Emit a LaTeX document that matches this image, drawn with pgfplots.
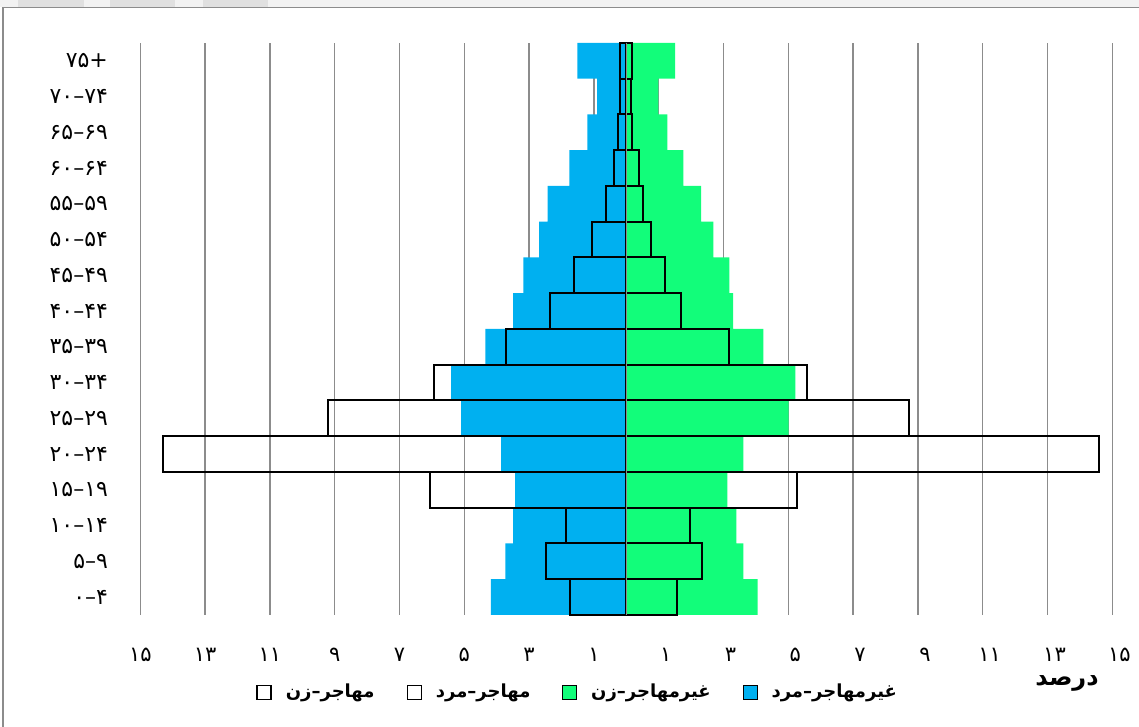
\documentclass[border=0pt]{standalone}
\usepackage{pgfplots}
\pgfplotsset{compat=1.18}
\usepackage{fontspec}
\setmainfont{DejaVu Sans}
\TeXXeTstate=1
\newfontfamily\arabicfont[Script=Arabic]{DejaVu Sans}
\newfontfamily\digitfont{DejaVu Sans}
\definecolor{nmblue}{RGB}{0,176,240}
\definecolor{nmgreen}{RGB}{18,253,122}
\definecolor{gridgray}{RGB}{140,140,140}

\begin{document}
\begin{tikzpicture}[x=1pt,y=1pt]
\useasboundingbox (0,0) rectangle (569.5,363.5);
% top strip (window frame)
\fill[black!5] (0,359.75) rectangle (569.5,363.5);
\fill[black!12] (9,359.75) rectangle (42,363.5);
\fill[black!12] (55,359.75) rectangle (87.5,363.5);
\fill[black!12] (101.5,359.75) rectangle (134,363.5);
\draw[black!45, line width=0.8pt] (1.5,0) -- (1.5,359.75) -- (569.5,359.75);

\begin{axis}[
  at={(70.15pt,56pt)}, anchor=south west,
  scale only axis, width=486pt, height=286pt,
  xmin=-15, xmax=15, ymin=-0.5, ymax=15.5,
  axis line style={draw=none},
  major tick length=0pt,
  xtick={-15,-13,...,15},
  xticklabels={۱۵,۱۳,۱۱,۹,۷,۵,۳,۱,\hspace*{7pt}۱,\hspace*{7pt}۳,\hspace*{7pt}۵,\hspace*{7pt}۷,\hspace*{7pt}۹,\hspace*{7pt}۱۱,\hspace*{7pt}۱۳,\hspace*{7pt}۱۵},
  ytick={0,...,15},
  yticklabels={۰–۴,۵–۹,۱۰–۱۴,۱۵–۱۹,۲۰–۲۴,۲۵–۲۹,۳۰–۳۴,۳۵–۳۹,۴۰–۴۴,۴۵–۴۹,۵۰–۵۴,۵۵–۵۹,۶۰–۶۴,۶۵–۶۹,۷۰–۷۴,۷۵+},
  xmajorgrids, ymajorgrids=false,
  grid style={gridgray, line width=0.75pt},
  xticklabel style={font=\digitfont\fontsize{10.5}{12}\selectfont, anchor=center, inner sep=0pt, yshift=-20pt},
  yticklabel style={font=\digitfont\fontsize{11}{12}\selectfont, anchor=east, inner sep=0pt, xshift=-16pt},
  clip=false,
  legend columns=4,
  legend image code/.code={\draw[#1] (0pt,-3.5pt) rectangle (7pt,3.5pt);},
  legend style={at={(0.451,-0.135)}, anchor=center, draw=none, fill=none,
    font=\arabicfont\bfseries\fontsize{9}{11}\selectfont,
    /tikz/every odd column/.append style={column sep=5pt},
    /tikz/every even column/.append style={column sep=14pt},
    inner sep=0pt},
]
\addlegendimage{draw=black, fill=white, line width=0.7pt}
\addlegendentry{\beginR مهاجر–زن\endR}
\addlegendimage{draw=black, fill=white, line width=0.7pt}
\addlegendentry{\beginR مهاجر–مرد\endR}
\addlegendimage{draw=none, fill=nmgreen}
\addlegendentry{\beginR غیرمهاجر–زن\endR}
\addlegendimage{draw=none, fill=nmblue}
\addlegendentry{\beginR غیرمهاجر–مرد\endR}

% non-migrant male (left, blue)
\addplot[xbar, bar width=1, bar shift=0pt, fill=nmblue, draw=none, forget plot] coordinates {
(-4.18,0) (-3.73,1) (-3.49,2) (-3.43,3) (-3.86,4) (-5.10,5) (-5.41,6) (-4.35,7)
(-3.49,8) (-3.18,9) (-2.69,10) (-2.43,11) (-1.76,12) (-1.20,13) (-0.90,14) (-1.51,15)};
% non-migrant female (right, green)
\addplot[xbar, bar width=1, bar shift=0pt, fill=nmgreen, draw=none, forget plot] coordinates {
(4.05,0) (3.61,1) (3.40,2) (3.12,3) (3.61,4) (5.01,5) (5.22,6) (4.23,7)
(3.30,8) (3.18,9) (2.69,10) (2.31,11) (1.76,12) (1.27,13) (0.99,14) (1.51,15)};
% migrant male (left, outline)
\addplot[xbar, bar width=1, bar shift=0pt, fill=none, draw=black, line width=1pt, forget plot] coordinates {
(-1.74,0) (-2.48,1) (-1.85,2) (-6.06,3) (-14.29,4) (-9.22,5) (-5.95,6) (-3.71,7)
(-2.35,8) (-1.60,9) (-1.05,10) (-0.62,11) (-0.37,12) (-0.26,13) (-0.19,14) (-0.19,15)};
% migrant female (right, outline)
\addplot[xbar, bar width=1, bar shift=0pt, fill=none, draw=black, line width=1pt, forget plot] coordinates {
(1.55,0) (2.35,1) (1.98,2) (5.27,3) (14.60,4) (8.73,5) (5.58,6) (3.16,7)
(1.68,8) (1.18,9) (0.75,10) (0.50,11) (0.38,12) (0.19,13) (0.13,14) (0.19,15)};
% central vertical axis
\draw[gridgray, line width=0.8pt] (axis cs:0,-0.5) -- (axis cs:0,15.5);
\end{axis}
\node[font=\arabicfont\bfseries\fontsize{12}{14}\selectfont, inner sep=0pt] at (533.5,22) {\beginR درصد\endR};
\end{tikzpicture}
\end{document}
